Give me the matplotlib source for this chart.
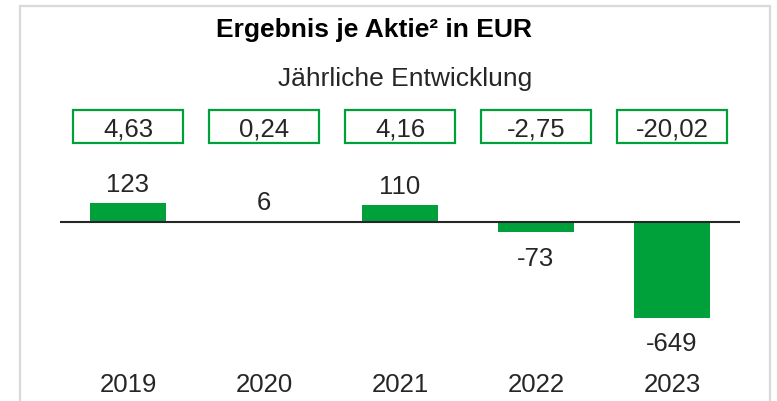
import matplotlib
matplotlib.use("Agg")
import matplotlib.pyplot as plt
from matplotlib.patches import Rectangle
from matplotlib.transforms import blended_transform_factory

plt.rcParams['font.family'] = ['Liberation Sans', 'DejaVu Sans']

# data
years = ['2019', '2020', '2021', '2022', '2023']
ergebnis = [123, 6, 110, -73, -649]
eps = [4.63, 0.24, 4.16, -2.75, -20.02]

title = 'Ergebnis je Aktie² in EUR'
subtitle = 'Jährliche Entwicklung'

green = '#00a13a'
text_col = '#262626'

W, H = 777, 402
fig = plt.figure(figsize=(W / 100, H / 100), dpi=100)
ax = fig.add_axes([0, 0, 1, 1])
ax.set_axis_off()

# pixel layout -> data limits (bar spacing 136 px, first bar at x=128 px)
px_per_unit = 0.148
base_px = 222.5
ax.set_xlim(-128 / 136, (W - 128) / 136)
ax.set_ylim(-(H - base_px) / px_per_unit, base_px / px_per_unit)

trans = blended_transform_factory(ax.transData, ax.transAxes)


def ypx(p):
    # pixel from top -> axes fraction
    return 1 - p / H


x = range(len(years))
ax.bar(x, ergebnis, width=76 / 136, color=green, zorder=2)
ax.plot([-0.5, 4.5], [0, 0], color=text_col, lw=1.5, zorder=3,
        solid_capstyle='butt')

for i, v in enumerate(ergebnis):
    off = 8.6 if v >= 0 else -23.5
    ax.annotate(f'{v}', xy=(i, v), xytext=(0, off), textcoords='offset points',
                ha='center', va='baseline', fontsize=18.5, color=text_col)

bw = 110 / 136
for i, e in enumerate(eps):
    ax.add_patch(Rectangle((i - bw / 2, ypx(143.5)), bw, 33 / H, transform=trans,
                           fill=False, edgecolor=green, lw=1.6, clip_on=False))
    ax.text(i, ypx(136.7), f'{e:.2f}'.replace('.', ','), transform=trans,
            ha='center', va='baseline', fontsize=18.5, color=text_col)

for i, y in enumerate(years):
    ax.text(i, ypx(392), y, transform=trans, ha='center', va='baseline',
            fontsize=18.5, color=text_col)

fig.text(532 / W, ypx(36.7), title, ha='right', va='baseline',
         fontsize=19, fontweight='bold', color='black')
fig.text(532 / W, ypx(86), subtitle, ha='right', va='baseline',
         fontsize=19, color=text_col)

# light grey frame around the chart (bottom edge cut off)
fig.patches.append(Rectangle((20 / W, -0.1), 750 / W, (H - 7) / H + 0.1,
                             transform=fig.transFigure, fill=False,
                             edgecolor='#d9d9d9', lw=1.6))

fig.savefig('out.png', dpi=100)
